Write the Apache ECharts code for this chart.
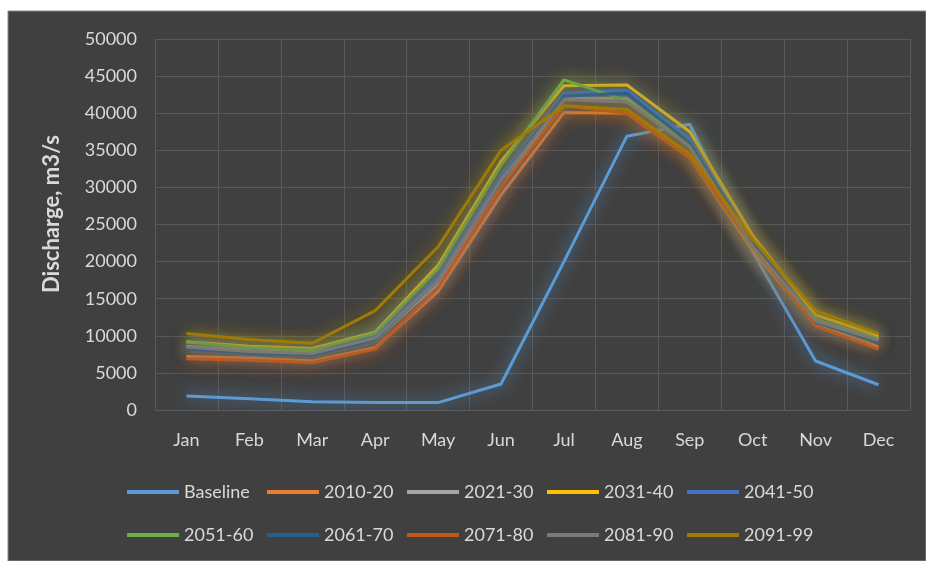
<!DOCTYPE html>
<html>
<head>
<meta charset="utf-8">
<script src="https://cdn.jsdelivr.net/npm/echarts@6/dist/echarts.min.js"></script>
<style>
html,body{margin:0;padding:0;background:#ffffff;}
#chart{width:926px;height:561px;}
</style>
</head>
<body>
<div id="chart"></div>
<script>
const months = ['Jan','Feb','Mar','Apr','May','Jun','Jul','Aug','Sep','Oct','Nov','Dec'];
const yTicks = [0,5000,10000,15000,20000,25000,30000,35000,40000,45000,50000];
const seriesNames = ['Baseline','2010-20','2021-30','2031-40','2041-50','2051-60','2061-70','2071-80','2081-90','2091-99'];
const baseline = [1900,1500,1100,1000,1000,3500,20000,36900,38500,21300,6600,3400];
const s2010_20 = [7200,7000,6600,8400,16000,29000,40100,40000,34000,21500,11500,8500];
const s2021_30 = [8600,8000,7700,9500,17000,30000,42000,42000,35500,22000,12000,9600];
const s2031_40 = [9200,8600,8300,10500,19500,33500,43700,43800,37500,23500,12800,10000];
const s2041_50 = [8400,7800,7500,9800,18000,31500,42700,43100,36500,22500,12000,9300];
const s2051_60 = [9200,8400,8100,10300,19000,33000,44500,41700,36000,22000,12200,9500];
const s2061_70 = [8300,7600,7400,9500,17500,31000,42300,42700,36000,22500,11800,9200];
const s2071_80 = [6900,6700,6400,8200,16500,30000,41000,40000,34000,22000,11300,8200];
const s2081_90 = [8500,7900,7600,9700,17500,31000,41800,41500,35500,22000,12000,9400];
const s2091_99 = [10300,9500,9000,13400,22000,35000,41000,40500,34500,23000,13400,10300];
const seriesValues = [baseline,s2010_20,s2021_30,s2031_40,s2041_50,s2051_60,s2061_70,s2071_80,s2081_90,s2091_99];
const colors = ['#5B9BD5','#ED7D31','#A5A5A5','#FFC000','#4472C4','#70AD47','#255E91','#C0581A','#7A7A7A','#A07A05'];

const FONT = 'Lato';
const TXT = '#d9d9d9';

const chart = echarts.init(document.getElementById('chart'), null, {renderer:'canvas'});
const legends = seriesNames.map((n,i)=>({
  left: 127 + 140*(i%5),
  top: i < 5 ? 483 : 526,
  orient: 'horizontal',
  padding: 0,
  icon: 'rect',
  itemWidth: 52,
  itemHeight: 4,
  itemGap: 0,
  data: [n],
  textStyle: {color: TXT, fontFamily: FONT, fontSize: 18}
}));
chart.setOption({
  backgroundColor: '#ffffff',
  animation: false,
  color: colors,
  graphic: [
    {type:'rect', shape:{x:8, y:11, width:918, height:550}, style:{fill:'#404040', stroke:'#8a8a8a', lineWidth:1}, z:-10, silent:true},
    {type:'text', x:52, y:214, rotation:Math.PI/2, style:{text:'Discharge, m3/s', fill:TXT, font:'bold 22px Lato', textAlign:'center', textVerticalAlign:'middle'}}
  ],
  grid: {left:155, right:16, top:39, bottom:151, containLabel:false},
  legend: legends,
  xAxis: {
    type: 'category',
    data: months,
    boundaryGap: true,
    axisLine: {show:true, lineStyle:{color:'#5a5a5a', width:1}},
    axisTick: {show:false},
    axisLabel: {color: TXT, fontFamily: FONT, fontSize: 18, margin: 21, interval: 0},
    splitLine: {show:true, lineStyle:{color:'#595959', width:1}}
  },
  yAxis: {
    type: 'value',
    min: yTicks[0],
    max: yTicks[yTicks.length-1],
    interval: yTicks[1]-yTicks[0],
    axisLine: {show:false},
    axisTick: {show:false},
    axisLabel: {color: TXT, fontFamily: FONT, fontSize: 18, margin: 18, formatter: function(v){ return String(v); }},
    splitLine: {show:true, lineStyle:{color:'#595959', width:1}}
  },
  series: seriesNames.map((n,i)=>({
    name: n,
    type: 'line',
    data: seriesValues[i],
    symbol: 'none',
    smooth: false,
    lineStyle: {width: 3, color: colors[i], shadowBlur: 16, shadowColor: colors[i]},
    itemStyle: {color: colors[i]},
    z: 2 + i
  }))
});
</script>
</body>
</html>
